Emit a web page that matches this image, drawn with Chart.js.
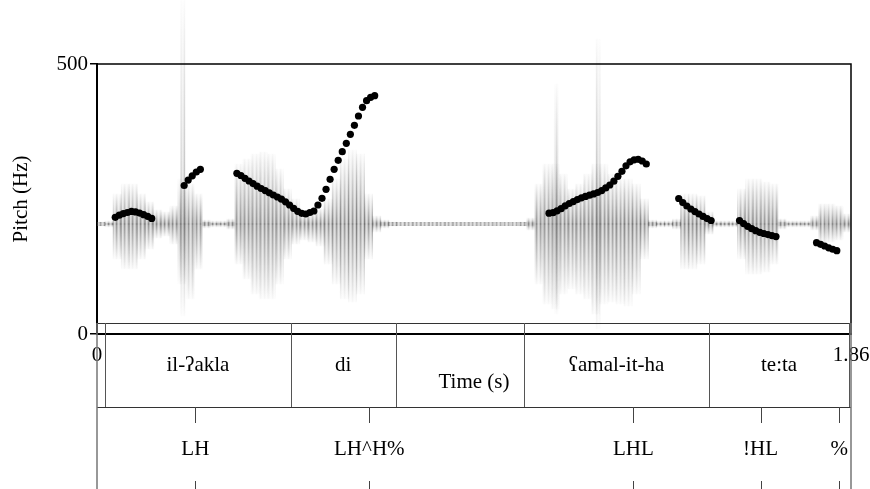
<!DOCTYPE html>
<html><head><meta charset="utf-8">
<script src="https://cdn.jsdelivr.net/npm/chart.js"></script>
<style>html,body{margin:0;padding:0;background:#fff}canvas{display:block}</style>
</head><body>
<canvas id="c" width="870" height="489"></canvas>
<script>
// ---- Pitch track (s, Hz) ----
const pitchTimes = [
  0.045,0.055,0.065,0.075,0.085,0.095,0.105,0.115,0.125,0.135,
  0.215,0.225,0.235,0.245,0.255,
  0.345,0.355,0.365,0.375,0.385,0.395,0.405,0.415,0.425,0.435,0.445,0.455,0.465,0.475,0.485,0.495,0.505,0.515,0.525,
  0.535,0.545,0.555,0.565,0.575,0.585,0.595,0.605,0.615,0.625,0.635,0.645,0.655,0.665,0.675,0.685,
  1.115,1.125,1.135,1.145,1.155,1.165,1.175,1.185,1.195,1.205,1.215,1.225,1.235,1.245,1.255,1.265,1.275,1.285,1.295,1.305,1.315,1.325,1.335,1.345,1.355,
  1.435,1.445,1.455,1.465,1.475,1.485,1.495,1.505,1.515,
  1.585,1.595,1.605,1.615,1.625,1.635,1.645,1.655,1.665,1.675,
  1.775,1.785,1.795,1.805,1.815,1.825
];
const pitchHz = [
  216,220,223,225,227,226,224,221,218,214,
  275,285,293,300,305,
  297.6,293.5,288.3,283.3,278.5,273.7,269.4,265.6,261.5,257.4,253.7,249.6,244.8,238.9,232.8,227.2,223.5,222.2,225,
  227.8,238.9,251.3,268,286.5,305,321.7,337.6,353.1,369.8,386.5,403.7,419.8,432,438.3,441.3,
  223.7,224.6,228.1,232,237.4,241.7,245.2,248.9,252.2,254.8,257,259.4,262,265.6,270.6,275.9,283,292,301.3,311.5,318.9,322.6,323.5,320.4,314.8,
  250.9,243.3,237,231.5,226.7,222.2,217.8,213.7,210.2,
  210,204.4,199.4,195,191.3,188.3,186.1,184.1,182.2,180.4,
  169.1,166.1,163,159.6,156.9,154.3
];

// ---- Waveform envelope (s, relative amplitude) ----
const waveTimes = [
  0.01,0.03,0.05,0.07,0.09,0.11,0.13,0.15,0.17,0.19,0.21,0.23,0.25,0.27,0.29,0.31,0.33,0.35,0.37,0.39,
  0.41,0.43,0.45,0.47,0.49,0.51,0.53,0.55,0.57,0.59,0.61,0.63,0.65,0.67,0.69,0.71,0.73,
  0.75,0.77,0.79,0.81,0.83,0.85,0.87,0.89,0.91,0.93,0.95,0.97,0.99,1.01,1.03,
  1.05,1.07,1.09,1.11,1.13,1.15,1.17,1.19,1.21,1.23,1.25,1.27,1.29,1.31,1.33,1.35,1.37,1.39,1.41,1.43,
  1.45,1.47,1.49,1.51,1.53,1.55,1.57,1.59,1.61,1.63,1.65,1.67,1.69,1.71,1.73,1.75,1.77,1.79,1.81,1.83,1.85
];
const waveTop = [
  2,3,30,40,40,30,22,14,12,18,45,40,30,4,3,3,5,60,65,70,
  72,70,55,35,25,12,12,15,25,45,65,74,70,30,8,4,2,
  1.5,1.5,1.5,1.5,1.5,1.5,1.5,1.5,1.5,1.5,1.5,1.5,1.5,1.5,1.5,
  2,6,40,60,60,50,35,40,50,60,60,50,45,45,40,25,4,3,3,5,
  30,30,28,12,3,3,3,35,45,45,42,40,5,3,3,3,8,20,20,18,10
];
const waveBottom = [
  -2,-3,-35,-45,-45,-35,-25,-14,-12,-20,-60,-75,-45,-4,-3,-3,-5,-40,-55,-70,
  -75,-75,-60,-35,-20,-16,-18,-22,-40,-60,-75,-78,-70,-35,-8,-4,-2,
  -1.5,-1.5,-1.5,-1.5,-1.5,-1.5,-1.5,-1.5,-1.5,-1.5,-1.5,-1.5,-1.5,-1.5,-1.5,
  -2,-6,-60,-80,-85,-70,-65,-70,-75,-90,-80,-78,-80,-82,-70,-35,-4,-3,-3,-5,
  -45,-45,-40,-10,-3,-3,-3,-35,-50,-50,-48,-40,-5,-3,-3,-3,-6,-20,-18,-16,-8
];
const spikeTimes = [0.212, 1.133, 1.236];
const spikeTop = [224, 140, 185];
const spikeBottom = [-92, -90, -105];

// ---- Axes ----
const xTicks = [0, 1.86];
const yTicks = [0, 500];

// ---- TextGrid tiers ----
const wordBounds = [0.02, 0.478, 0.737, 1.053, 1.51, 1.855];
const wordLabels = ['', 'il-ʔakla', 'di', '', 'ʕamal-it-ha', 'te:ta', ''];
const toneTimes = [0.2425, 0.6717, 1.323, 1.637, 1.831];
const toneLabels = ['LH', 'LH^H%', 'LHL', '!HL', '%'];

const FONT = "'Liberation Serif', 'Times New Roman', serif";
Chart.defaults.font.family = FONT;
Chart.defaults.font.size = 21;
Chart.defaults.color = '#000';

// striped fill whose shade fades from the zero line to the tips of each bar
const patternCache = {};
function barPattern(chart, key, topVal, botVal, strength) {
  const ys = chart.scales.yw;
  const cy = ys.getPixelForValue(0);
  const tp = ys.getPixelForValue(topVal);
  const bp = ys.getPixelForValue(botVal);
  const k = key + ':' + Math.round(cy) + ':' + Math.round(tp) + ':' + Math.round(bp);
  if (patternCache[k]) return patternCache[k];
  const H = chart.height, W = 4;
  const c = document.createElement('canvas');
  c.width = W; c.height = H;
  const g = c.getContext('2d');
  const colAlpha = [1.0, 0.65, 0.35, 0.55];
  const pts = [];
  const add = (y, al) => pts.push([Math.min(1, Math.max(0, y / H)), al]);
  add(0, 0);
  add(tp - 1, 0.03);
  add(tp + 0.15 * (cy - tp), 0.14);
  add(tp + 0.5 * (cy - tp), 0.36);
  add(cy - 1.5, 0.66);
  add(cy, 0.8);
  add(cy + 1.5, 0.66);
  add(bp - 0.5 * (bp - cy), 0.36);
  add(bp - 0.15 * (bp - cy), 0.14);
  add(bp + 1, 0.03);
  add(H, 0);
  pts.sort((a, b) => a[0] - b[0]);
  for (let i = 0; i < W; i++) {
    const a = colAlpha[i] * strength;
    const gr = g.createLinearGradient(0, 0, 0, H);
    pts.forEach(([o, al]) => gr.addColorStop(o, 'rgba(100,100,100,' + Math.min(1, al * a).toFixed(3) + ')'));
    g.fillStyle = gr;
    g.fillRect(i, 0, 1, H);
  }
  const p = chart.ctx.createPattern(c, 'repeat');
  patternCache[k] = p;
  return p;
}
function waveFill(c) {
  const chart = c.chart;
  if (c.type !== 'data' || !chart.chartArea || !chart.scales.yw) return 'rgba(160,160,160,0.4)';
  const i = c.dataIndex;
  return barPattern(chart, 'w' + i, waveTop[i], waveBottom[i], 1);
}
function spikeFill(c) {
  const chart = c.chart;
  if (c.type !== 'data' || !chart.chartArea || !chart.scales.yw) return 'rgba(160,160,160,0.2)';
  const i = c.dataIndex;
  return barPattern(chart, 's' + i, spikeTop[i], spikeBottom[i], 0.7);
}

const tierPlugin = {
  id: 'tiers',
  afterDraw(chart) {
    const ctx = chart.ctx, xs = chart.scales.x, a = chart.chartArea;
    const X = t => xs.getPixelForValue(t);
    const L = a.left, R = a.right;
    const tierTop = a.bottom - 11, tierMid = a.bottom + 73, pageBottom = chart.height;
    ctx.save();
    ctx.strokeStyle = '#000'; ctx.lineWidth = 1.5;
    ctx.beginPath();
    ctx.moveTo(L, a.top); ctx.lineTo(R, a.top); ctx.lineTo(R, a.bottom);
    ctx.stroke();
    ctx.strokeStyle = '#333'; ctx.lineWidth = 1;
    ctx.beginPath();
    ctx.moveTo(L, tierTop + 0.5); ctx.lineTo(R, tierTop + 0.5);
    ctx.moveTo(L, tierMid + 0.5); ctx.lineTo(R, tierMid + 0.5);
    ctx.stroke();
    ctx.strokeStyle = '#777'; ctx.lineWidth = 1.5;
    ctx.beginPath();
    ctx.moveTo(L, tierTop); ctx.lineTo(L, pageBottom);
    ctx.moveTo(R, tierTop); ctx.lineTo(R, pageBottom);
    ctx.stroke();
    ctx.strokeStyle = '#555'; ctx.lineWidth = 1;
    ctx.beginPath();
    wordBounds.forEach(b => { const x = Math.round(X(b)) + 0.5; ctx.moveTo(x, tierTop); ctx.lineTo(x, tierMid); });
    ctx.stroke();
    ctx.fillStyle = '#000';
    ctx.font = "21px " + FONT;
    ctx.textAlign = 'center'; ctx.textBaseline = 'middle';
    const edges = [0, ...wordBounds, 1.86];
    wordLabels.forEach((w, i) => {
      if (!w) return;
      ctx.fillText(w, (X(edges[i]) + X(edges[i + 1])) / 2, a.bottom + 31);
    });
    ctx.strokeStyle = '#444'; ctx.lineWidth = 1;
    ctx.beginPath();
    toneTimes.forEach(t => {
      const x = Math.round(X(t)) + 0.5;
      ctx.moveTo(x, tierMid); ctx.lineTo(x, tierMid + 16);
      ctx.moveTo(x, pageBottom - 8); ctx.lineTo(x, pageBottom);
    });
    ctx.stroke();
    toneLabels.forEach((s, i) => ctx.fillText(s, X(toneTimes[i]), tierMid + 42));
    ctx.restore();
  }
};

new Chart(document.getElementById('c'), {
  type: 'scatter',
  data: {
    datasets: [
      {
        type: 'scatter', label: 'Pitch',
        data: pitchTimes.map((t, i) => ({ x: t, y: pitchHz[i] })),
        xAxisID: 'x', yAxisID: 'y',
        pointRadius: 3.6, pointBackgroundColor: '#000', pointBorderWidth: 0,
        showLine: false, order: 0
      },
      {
        type: 'bar', label: 'Waveform',
        data: waveTimes.map((t, i) => ({ x: t, y: [waveBottom[i], waveTop[i]] })),
        xAxisID: 'x', yAxisID: 'yw',
        backgroundColor: waveFill, borderWidth: 0, barThickness: 8.2,
        grouped: false, order: 2
      },
      {
        type: 'bar', label: 'Spikes',
        data: spikeTimes.map((t, i) => ({ x: t, y: [spikeBottom[i], spikeTop[i]] })),
        xAxisID: 'x', yAxisID: 'yw',
        backgroundColor: spikeFill, borderWidth: 0, barThickness: 4,
        grouped: false, clip: false, order: 3
      }
    ]
  },
  options: {
    responsive: false, animation: false, devicePixelRatio: 1,
    layout: { autoPadding: false, padding: { left: 0, right: 19, top: 64, bottom: 0 } },
    plugins: { legend: { display: false }, tooltip: { enabled: false } },
    scales: {
      x: {
        type: 'linear', position: 'bottom', min: 0, max: 1.86, offset: false,
        afterBuildTicks: s => { s.ticks = xTicks.map(v => ({ value: v })); },
        afterFit: s => { s.height = 155; s.paddingLeft = 0; s.paddingRight = 0; },
        grid: { display: false, drawTicks: false },
        border: { display: true, color: '#000', width: 2 },
        ticks: { padding: 9, maxRotation: 0, autoSkip: false, callback: v => String(v) },
        title: { display: true, text: 'Time (s)', padding: { top: 0, bottom: 94 } }
      },
      y: {
        type: 'linear', position: 'left', min: 0, max: 500,
        afterBuildTicks: s => { s.ticks = yTicks.map(v => ({ value: v })); },
        afterFit: s => { s.width = 97; s.paddingTop = 0; s.paddingBottom = 0; },
        grid: { display: true, drawOnChartArea: false, drawTicks: true, tickLength: 7, color: '#000', lineWidth: 1.5 },
        border: { display: true, color: '#000', width: 2 },
        ticks: { padding: 2, callback: v => String(v) },
        title: { display: true, text: 'Pitch (Hz)', padding: { top: 9, bottom: 0 } }
      },
      yw: { type: 'linear', display: false, min: -110, max: 160 }
    }
  },
  plugins: [tierPlugin]
});
</script>
</body></html>
